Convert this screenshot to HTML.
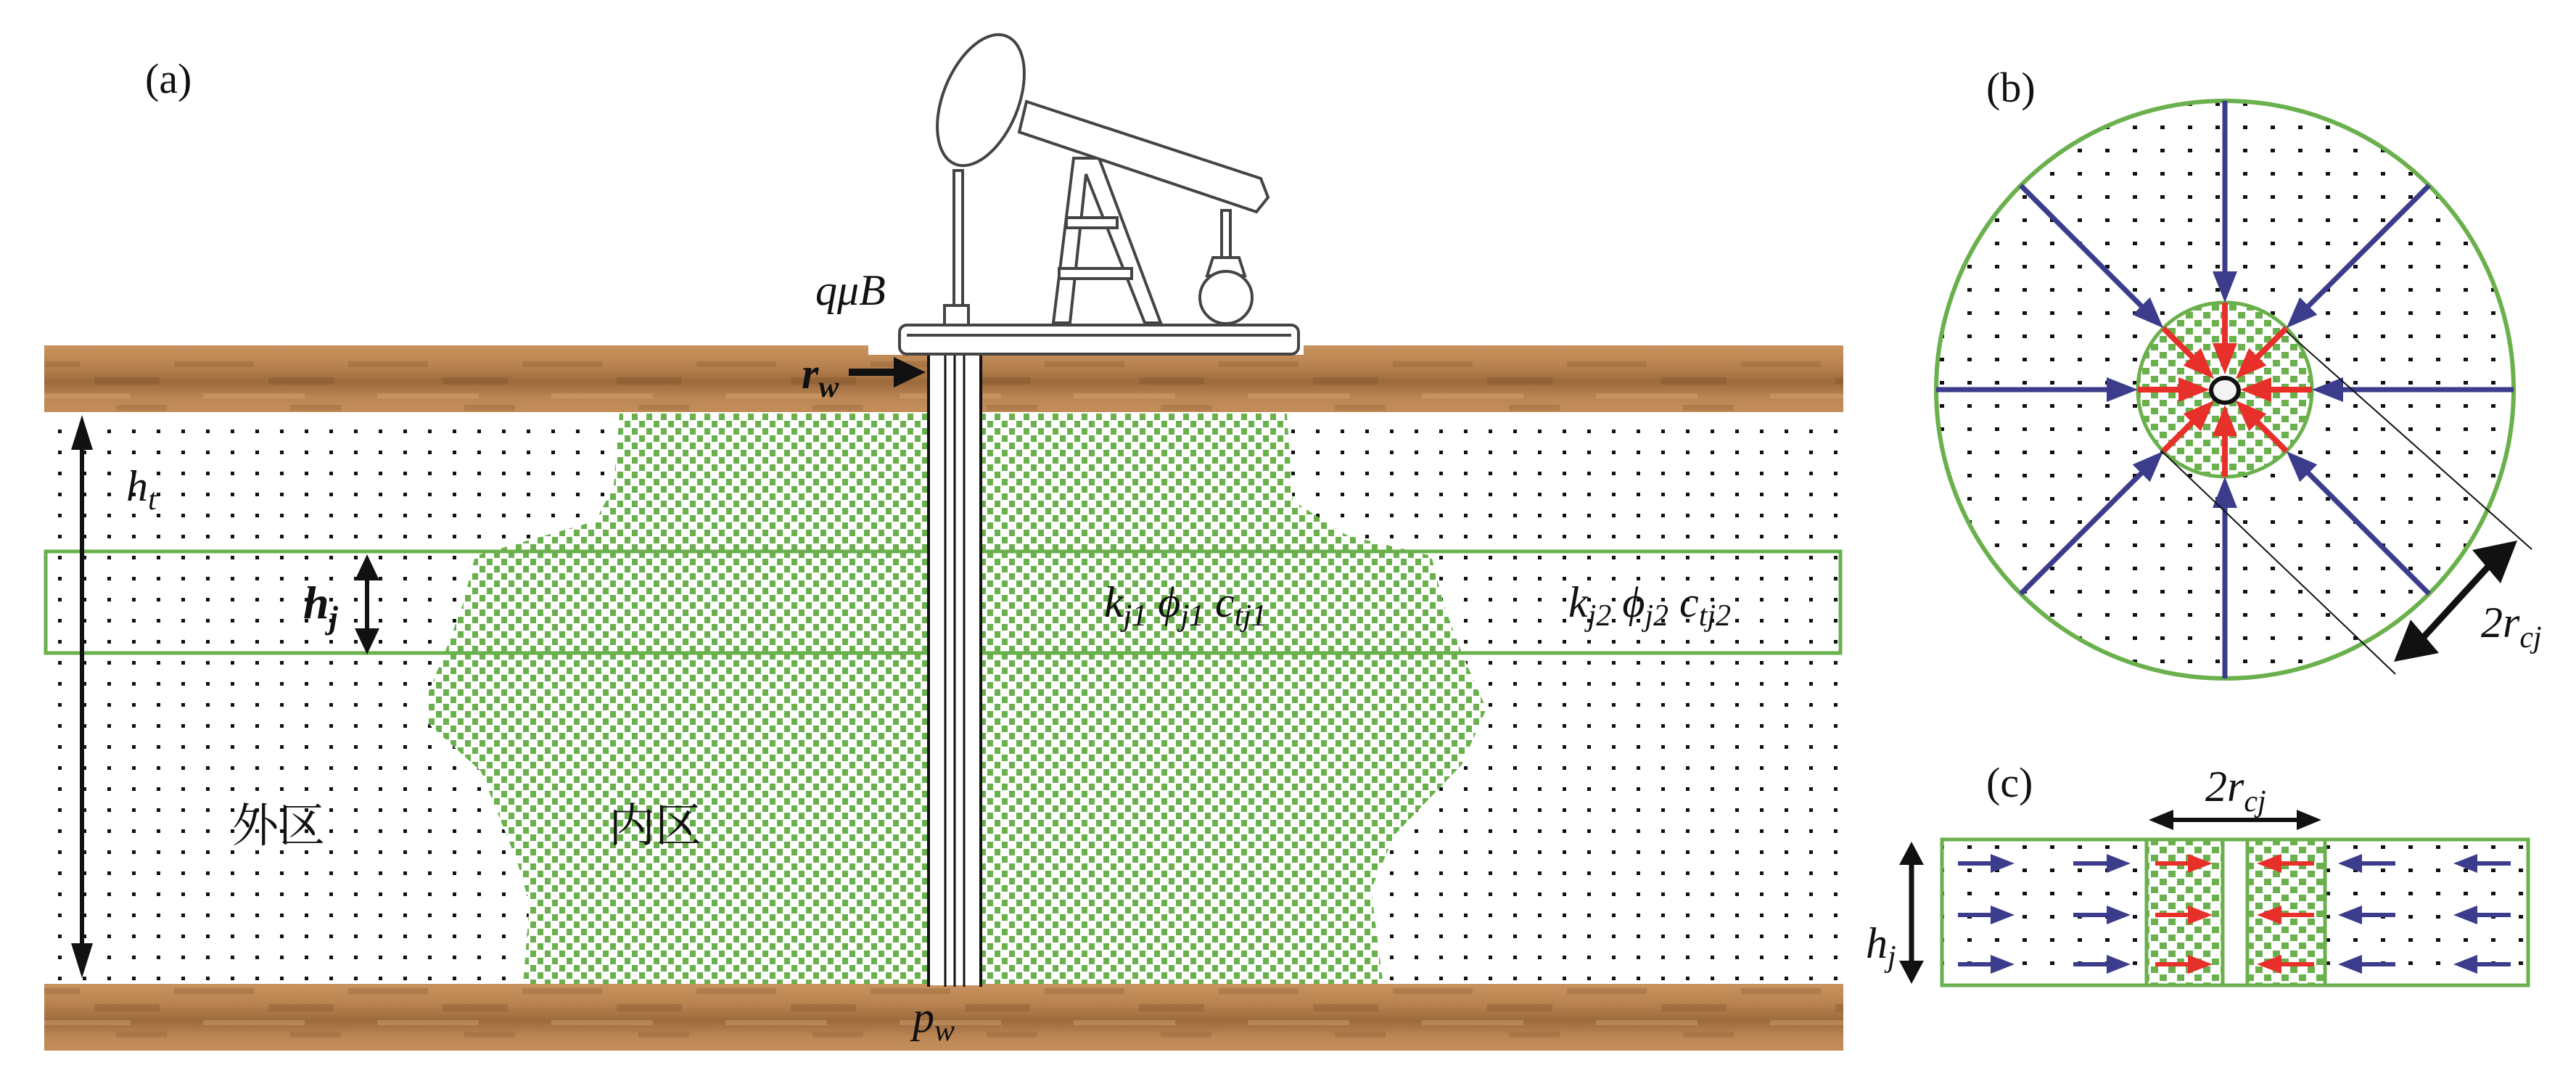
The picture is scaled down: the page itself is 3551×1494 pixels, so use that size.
<!DOCTYPE html>
<html><head><meta charset="utf-8">
<style>
html,body{margin:0;padding:0;background:#fff;}
svg{display:block;}
text{font-family:"Liberation Serif","Noto Serif CJK SC",serif;}
</style></head>
<body>
<svg width="3551" height="1494" viewBox="0 0 3551 1494" xmlns="http://www.w3.org/2000/svg">
<defs>
  <pattern id="dots" width="34" height="29" patternUnits="userSpaceOnUse">
    <rect x="12" y="12" width="5" height="5" fill="#111"/>
  </pattern>
  <pattern id="dots2" width="38" height="32" patternUnits="userSpaceOnUse">
    <rect x="14" y="13" width="6" height="5" fill="#111"/>
  </pattern>
  <pattern id="green" width="20" height="20" patternUnits="userSpaceOnUse">
    <rect x="0" y="0" width="20" height="20" fill="#fff"/>
    <rect x="1" y="0" width="8" height="9" fill="#6ab04c"/>
    <rect x="11" y="10" width="8" height="9" fill="#6ab04c"/>
  </pattern>
  <pattern id="green2" width="24" height="22" patternUnits="userSpaceOnUse">
    <rect x="0" y="0" width="24" height="22" fill="#fff"/>
    <rect x="1" y="1" width="10" height="9" fill="#6ab04c"/>
    <rect x="13" y="12" width="10" height="9" fill="#6ab04c"/>
  </pattern>
  <linearGradient id="brown" x1="0" y1="0" x2="0" y2="1">
    <stop offset="0" stop-color="#c9935f"/>
    <stop offset="0.3" stop-color="#b98350"/>
    <stop offset="0.55" stop-color="#9c6a3c"/>
    <stop offset="0.8" stop-color="#bd8755"/>
    <stop offset="1" stop-color="#c48e5b"/>
  </linearGradient>
  <pattern id="streak" width="240" height="96" patternUnits="userSpaceOnUse">
    <rect x="0" y="18" width="110" height="8" fill="#8a5a33" opacity="0.35"/>
    <rect x="130" y="40" width="90" height="10" fill="#7d4f2b" opacity="0.35"/>
    <rect x="40" y="62" width="140" height="7" fill="#d8a977" opacity="0.4"/>
    <rect x="160" y="78" width="70" height="8" fill="#8a5a33" opacity="0.3"/>
  </pattern>
</defs>

<rect x="61" y="566" width="2480" height="792" fill="url(#dots)"/>
<path fill="url(#green)" d="M854,570 L846,670 L821,718 L655,766 L638,833 L613,900 L589,958 L589,996 L663,1063 L713,1188 L730,1245 L721,1358 L1907,1358 L1890,1226 L1923,1150 L2015,1054 L2049,977 L2015,900 L1990,833 L1973,766 L1857,738 L1782,690 L1774,570 Z"/>

<rect x="61" y="476" width="2480" height="92" fill="url(#brown)"/>
<rect x="61" y="476" width="2480" height="92" fill="url(#streak)"/>
<rect x="61" y="1356" width="2480" height="92" fill="url(#brown)"/>
<rect x="61" y="1356" width="2480" height="92" fill="url(#streak)"/>
<rect x="1197" y="474" width="600" height="15" fill="#fff"/>

<rect x="63" y="760" width="2474" height="140" fill="none" stroke="#6ab04c" stroke-width="5"/>

<rect x="1279" y="489" width="74" height="869" fill="#fff"/>
<line x1="1280" y1="489" x2="1280" y2="1360" stroke="#111" stroke-width="4"/>
<line x1="1352" y1="489" x2="1352" y2="1360" stroke="#111" stroke-width="4"/>
<line x1="1303" y1="489" x2="1303" y2="1360" stroke="#111" stroke-width="3"/>
<line x1="1316" y1="489" x2="1316" y2="1360" stroke="#111" stroke-width="3"/>
<line x1="1329" y1="489" x2="1329" y2="1360" stroke="#111" stroke-width="3"/>

<g stroke="#444" stroke-width="4" fill="#fff">
  <rect x="1240" y="448" width="550" height="40" rx="10"/>
  <line x1="1250" y1="462" x2="1780" y2="462"/>
  <polygon points="1480,218 1515,218 1600,445 1578,445 1497,240 1475,445 1452,445"/>
  <rect x="1470" y="300" width="70" height="14"/>
  <rect x="1460" y="370" width="100" height="14"/>
  <polygon points="1415,140 1738,246 1748,272 1732,292 1405,182"/>
  <ellipse cx="1352" cy="138" rx="52" ry="95" transform="rotate(22 1352 138)"/>
  <rect x="1315" y="235" width="12" height="186"/>
  <rect x="1302" y="421" width="33" height="27"/>
  <rect x="1684" y="290" width="12" height="65"/>
  <polygon points="1672,355 1708,355 1716,380 1664,380"/>
  <circle cx="1690" cy="410" r="36"/>
</g>

<g fill="#111" stroke="#111">
  <line x1="113" y1="600" x2="113" y2="1320" stroke-width="6"/>
  <polygon points="113,572 98,620 128,620" stroke="none"/>
  <polygon points="113,1348 98,1300 128,1300" stroke="none"/>
  <line x1="506" y1="790" x2="506" y2="876" stroke-width="6"/>
  <polygon points="506,764 489,800 523,800" stroke="none"/>
  <polygon points="506,902 489,866 523,866" stroke="none"/>
  <line x1="1170" y1="513" x2="1240" y2="513" stroke-width="10"/>
  <polygon points="1276,513 1232,492 1232,534" stroke="none"/>
</g>

<text x="200" y="128" font-size="58" fill="#111">(a)</text>
<text x="1124" y="420" font-size="60" font-style="italic" fill="#111">qμB</text>
<text x="1105" y="535" font-size="60" font-style="italic" font-weight="bold" fill="#111">r<tspan font-size="42" dy="12">w</tspan></text>
<text x="174" y="690" font-size="60" font-style="italic" fill="#111">h<tspan font-size="42" dy="12">t</tspan></text>
<text x="418" y="852" font-size="64" font-style="italic" font-weight="bold" fill="#111">h<tspan font-size="44" dy="14">j</tspan></text>
<text x="1522" y="850" font-size="60" font-style="italic" fill="#111">k<tspan font-size="42" dy="12">j1</tspan><tspan dy="-12"> ϕ</tspan><tspan font-size="42" dy="12">j1</tspan><tspan dy="-12"> c</tspan><tspan font-size="42" dy="12">tj1</tspan></text>
<text x="2162" y="850" font-size="60" font-style="italic" fill="#111">k<tspan font-size="42" dy="12">j2</tspan><tspan dy="-12"> ϕ</tspan><tspan font-size="42" dy="12">j2</tspan><tspan dy="-12"> c</tspan><tspan font-size="42" dy="12">tj2</tspan></text>
<text x="320" y="1160" font-size="64" fill="#111">外区</text>
<text x="839" y="1160" font-size="64" fill="#111">内区</text>
<text x="1258" y="1422" font-size="60" font-style="italic" fill="#111">p<tspan font-size="42" dy="12">w</tspan></text>

<!-- (b) -->
<text x="2738" y="140" font-size="58" fill="#111">(b)</text>
<circle cx="3067" cy="537" r="398" fill="#fff"/>
<circle cx="3067" cy="537" r="398" fill="url(#dots2)"/>
<circle cx="3067" cy="537" r="120" fill="url(#green2)"/>
<circle cx="3067" cy="537" r="398" fill="none" stroke="#6ab04c" stroke-width="6"/>
<circle cx="3067" cy="537" r="120" fill="none" stroke="#6ab04c" stroke-width="5"/>
<g id="bl">
  <line x1="2669" y1="537" x2="2915" y2="537" stroke="#3c3c8c" stroke-width="7"/>
  <polygon points="2904,520 2947,537 2904,554" fill="#3c3c8c"/>
  <line x1="2947" y1="537" x2="3015" y2="537" stroke="#e8302a" stroke-width="8"/>
  <polygon points="3003,520 3046,537 3003,554" fill="#e8302a"/>
</g>
<use href="#bl" transform="rotate(45 3067 537)"/>
<use href="#bl" transform="rotate(90 3067 537)"/>
<use href="#bl" transform="rotate(135 3067 537)"/>
<use href="#bl" transform="rotate(180 3067 537)"/>
<use href="#bl" transform="rotate(225 3067 537)"/>
<use href="#bl" transform="rotate(270 3067 537)"/>
<use href="#bl" transform="rotate(315 3067 537)"/>
<ellipse cx="3067" cy="538" rx="19" ry="17" fill="#f4f4f4" stroke="#111" stroke-width="6"/>
<line x1="3152" y1="457" x2="3490" y2="757" stroke="#111" stroke-width="2"/>
<line x1="2979" y1="621" x2="3302" y2="929" stroke="#111" stroke-width="2"/>
<g fill="#111">
  <line x1="3440" y1="770" x2="3330" y2="890" stroke="#111" stroke-width="9"/>
  <polygon points="3470,745 3408,758 3447,804"/>
  <polygon points="3300,912 3362,900 3323,854"/>
</g>
<text x="3420" y="878" font-size="60" font-style="italic" fill="#111">2r<tspan font-size="42" dy="14">cj</tspan></text>

<!-- (c) -->
<text x="2738" y="1098" font-size="58" fill="#111">(c)</text>
<rect x="2677" y="1157" width="808" height="201" fill="url(#dots2)"/>
<rect x="2959" y="1157" width="105" height="201" fill="url(#green2)"/>
<rect x="3098" y="1157" width="107" height="201" fill="url(#green2)"/>
<rect x="3064" y="1157" width="34" height="201" fill="#fff"/>
<g fill="none" stroke="#6ab04c" stroke-width="5">
  <rect x="2677" y="1157" width="808" height="201"/>
  <line x1="2959" y1="1157" x2="2959" y2="1358"/>
  <line x1="3064" y1="1157" x2="3064" y2="1358"/>
  <line x1="3098" y1="1157" x2="3098" y2="1358"/>
  <line x1="3205" y1="1157" x2="3205" y2="1358"/>
</g>
<g id="crow">
  <line x1="2699" y1="1190" x2="2750" y2="1190" stroke="#3c3c8c" stroke-width="6"/>
  <polygon points="2744,1177 2777,1190 2744,1203" fill="#3c3c8c"/>
  <line x1="2858" y1="1190" x2="2910" y2="1190" stroke="#3c3c8c" stroke-width="6"/>
  <polygon points="2904,1177 2937,1190 2904,1203" fill="#3c3c8c"/>
  <line x1="2971" y1="1190" x2="3022" y2="1190" stroke="#e8302a" stroke-width="6"/>
  <polygon points="3016,1177 3050,1190 3016,1203" fill="#e8302a"/>
  <line x1="3190" y1="1190" x2="3139" y2="1190" stroke="#e8302a" stroke-width="6"/>
  <polygon points="3145,1177 3111,1190 3145,1203" fill="#e8302a"/>
  <line x1="3302" y1="1190" x2="3250" y2="1190" stroke="#3c3c8c" stroke-width="6"/>
  <polygon points="3256,1177 3223,1190 3256,1203" fill="#3c3c8c"/>
  <line x1="3461" y1="1190" x2="3409" y2="1190" stroke="#3c3c8c" stroke-width="6"/>
  <polygon points="3415,1177 3382,1190 3415,1203" fill="#3c3c8c"/>
</g>
<use href="#crow" transform="translate(0 71)"/>
<use href="#crow" transform="translate(0 139)"/>
<g fill="#111">
  <line x1="2990" y1="1130" x2="3172" y2="1130" stroke="#111" stroke-width="6"/>
  <polygon points="2962,1130 2996,1116 2996,1144"/>
  <polygon points="3200,1130 3166,1116 3166,1144"/>
  <line x1="2635" y1="1185" x2="2635" y2="1331" stroke="#111" stroke-width="7"/>
  <polygon points="2635,1160 2618,1192 2652,1192"/>
  <polygon points="2635,1356 2618,1324 2652,1324"/>
</g>
<text x="3040" y="1104" font-size="60" font-style="italic" fill="#111">2r<tspan font-size="42" dy="14">cj</tspan></text>
<text x="2572" y="1320" font-size="60" font-style="italic" fill="#111">h<tspan font-size="42" dy="12">j</tspan></text>
</svg>
</body></html>
